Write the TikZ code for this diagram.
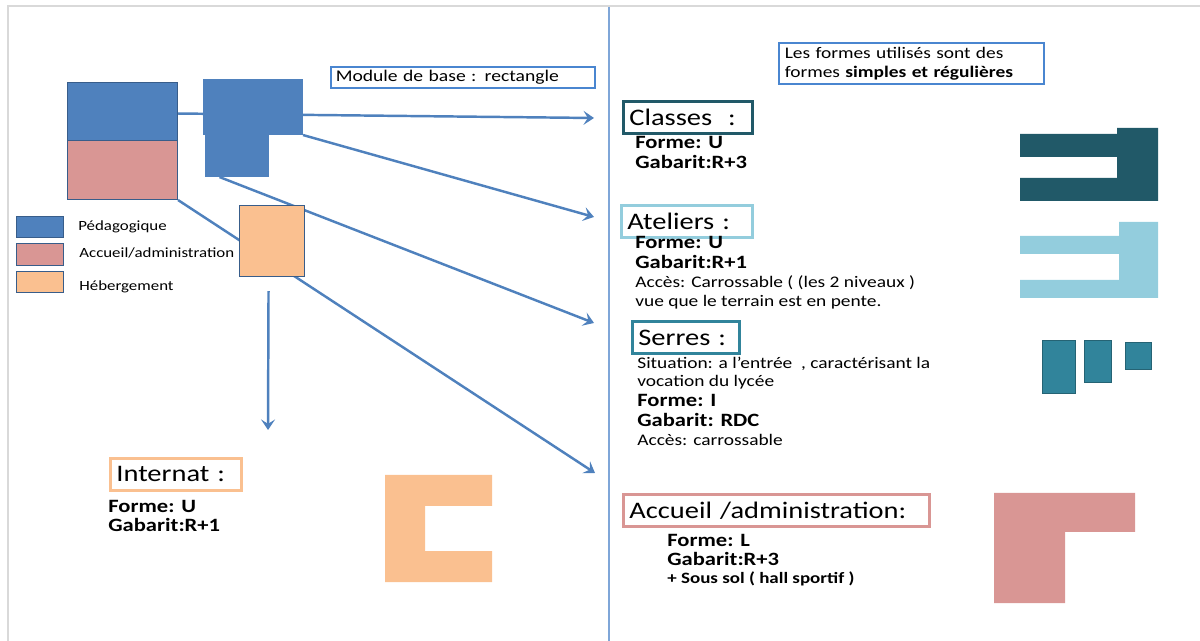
\documentclass[tikz,border=0pt]{standalone}
\usepackage{fontspec}
\setmainfont[FakeStretch=1.2]{Carlito}
\usetikzlibrary{positioning,calc,arrows.meta,backgrounds}

\definecolor{pedableu}{HTML}{4F81BD}
\definecolor{contour}{HTML}{385D8A}
\definecolor{accrose}{HTML}{D99694}
\definecolor{hebeorange}{HTML}{FAC090}
\definecolor{classteal}{HTML}{215968}
\definecolor{atelbleu}{HTML}{93CDDD}
\definecolor{serrteal}{HTML}{31849B}
\definecolor{cadregris}{HTML}{D9D9D9}
\definecolor{separbleu}{HTML}{7FA6D8}
\definecolor{boitebleu}{HTML}{4A86D0}

\tikzset{
  fleche/.style={draw=pedableu, line width=1.4pt, -{Stealth[length=6pt,width=8pt,inset=2.5pt]}},
  bloc/.style={draw=contour, line width=0.6pt, inner sep=0pt, anchor=north west},
  titre/.style={draw, line width=1.6pt, anchor=north west, inner xsep=0.12cm, inner ysep=0pt,
    minimum height=0.64cm, align=left, font=\fontsize{13.5}{15}\selectfont},
  gras/.style={anchor=base west, inner sep=0pt, font=\fontsize{10.7}{12}\selectfont\bfseries},
  texte/.style={anchor=base west, inner sep=0pt, font=\fontsize{9.2}{11}\selectfont},
  legende/.style={anchor=base west, inner sep=0pt, font=\fontsize{8}{10}\selectfont}
}

\begin{document}
\begin{tikzpicture}[x=0.02cm, y=-0.02cm]
  \useasboundingbox (0,0) rectangle (1200,641);
  % cadre et separation
  \draw[cadregris, line width=1.2pt] (8,641) -- (8,6) -- (1200,6);
  \draw[separbleu, line width=1.1pt] (609,7) -- (609,641);

  % module de base
  \node (peda) [bloc, fill=pedableu, minimum width=2.2cm, minimum height=1.16cm] at (67,82) {};
  \node (admin) [bloc, fill=accrose, minimum width=2.2cm, minimum height=1.18cm] at (67,140) {};
  \node (ltop) [bloc, draw=none, fill=pedableu, minimum width=2cm, minimum height=1.12cm] at (202,78) {};
  \node (lbot) [bloc, draw=none, fill=pedableu, minimum width=1.28cm, minimum height=0.84cm] at (204,134) {};
  \node (heberg) [bloc, fill=hebeorange, minimum width=1.3cm, minimum height=1.42cm] at (239,205) {};

  % legende
  \node (legPeda) [bloc, fill=pedableu, minimum width=0.94cm, minimum height=0.42cm] at (16,216) {};
  \node (legAdmin) [bloc, fill=accrose, minimum width=0.94cm, minimum height=0.44cm] at (16,243) {};
  \node (legHeberg) [bloc, fill=hebeorange, minimum width=0.94cm, minimum height=0.42cm] at (16,271) {};
  \node (txtPeda) [legende] at (78,231) {Pédagogique};
  \node (txtAdmin) [legende] at (79,258) {Accueil/administration};
  \node (txtHeberg) [legende] at (79,291) {Hébergement};

  \node (module) [draw=boitebleu, line width=0.9pt, anchor=north west, inner xsep=0.1cm, inner ysep=0pt,
    minimum height=0.42cm, text width=5.08cm, align=left, font=\fontsize{9.3}{11}\selectfont]
    at (330,66) {Module de base : rectangle};
  \node (formes) [draw=boitebleu, line width=0.9pt, anchor=north west, inner xsep=0.12cm, inner ysep=0pt,
    minimum height=0.82cm, text width=5.06cm, align=left, font=\fontsize{9.2}{10.8}\selectfont]
    at (778,42) {Les formes utilisés sont des\\formes \textbf{simples et régulières}};

  % fleches
  \coordinate (versClasses) at (594,118);
  \coordinate (versAteliers) at (594,217);
  \coordinate (versSerres) at (594,323);
  \coordinate (versAccueil) at (595,473);
  \coordinate (versInternat) at (268,430);
  \begin{scope}[on background layer]
    \draw[fleche] ([yshift=-0.04cm]peda.east) -- (versClasses);
    \draw[fleche] (ltop.south east) -- (versAteliers);
    \draw[fleche] ([xshift=-0.34cm]lbot.south) -- (versSerres);
    \draw[fleche] (admin.south east) -- (versAccueil);
  \end{scope}
  \draw[fleche] ([xshift=-0.07cm,yshift=-0.28cm]heberg.south) -- (versInternat);

  % classes
  \node (classes) [titre, draw=classteal, text width=2.34cm] at (622,100) {Classes\ \ :};
  \node (clsForme) [gras] at (635,149) {Forme: U};
  \node (clsGab) [gras] at (635,169) {Gabarit:R+3};
  \fill[classteal] (1020,134) -- (1117,134) -- (1117,128) -- (1158,128) -- (1158,201) -- (1020,201)
    -- (1020,178) -- (1117,178) -- (1117,157) -- (1020,157) -- cycle;

  % ateliers
  \node (ateliers) [titre, draw=atelbleu, text width=2.38cm] at (620,204) {Ateliers :};
  \node (atlForme) [gras] at (635,249) {Forme: U};
  \node (atlGab) [gras] at (635,269) {Gabarit:R+1};
  \node (atlAcces) [texte] at (635,288) {Accès: Carrossable ( (les 2 niveaux )};
  \node (atlPente) [texte] at (635,307) {vue que le terrain est en pente.};
  \fill[atelbleu] (1020,236) -- (1119,236) -- (1119,222) -- (1158,222) -- (1158,298) -- (1020,298)
    -- (1020,280) -- (1119,280) -- (1119,254) -- (1020,254) -- cycle;

  % serres
  \node (serres) [titre, draw=serrteal, text width=1.9cm] at (631,320) {Serres :};
  \node (srSituation) [texte] at (637,369) {Situation: a l’entrée\ \ , caractérisant la};
  \node (srVocation) [texte] at (637,387) {vocation du lycée};
  \node (srForme) [gras] at (637,407) {Forme: I};
  \node (srGab) [gras] at (637,427) {Gabarit: RDC};
  \node (srAcces) [texte] at (637,446) {Accès: carrossable};
  \filldraw[fill=serrteal, draw=serrteal!75!black, line width=0.5pt] (1042,340) rectangle (1075,393);
  \filldraw[fill=serrteal, draw=serrteal!75!black, line width=0.5pt] (1084,340) rectangle (1111,382);
  \filldraw[fill=serrteal, draw=serrteal!75!black, line width=0.5pt] (1125,342) rectangle (1151,369);

  % accueil
  \node (accueil) [titre, draw=accrose, text width=5.88cm] at (622,493) {Accueil /administration:};
  \node (accForme) [gras] at (667,546) {Forme: L};
  \node (accGab) [gras] at (667,565) {Gabarit:R+3};
  \node (accSousSol) [gras, font=\fontsize{9}{11}\selectfont\bfseries] at (667,583) {+ Sous sol ( hall sportif )};
  \fill[accrose] (994,493) -- (1135,493) -- (1135,532) -- (1065,532) -- (1065,603) -- (994,603) -- cycle;

  % internat
  \node (internat) [titre, draw=hebeorange, text width=2.38cm] at (109,457) {Internat :};
  \node (intForme) [gras] at (108,513) {Forme: U};
  \node (intGab) [gras] at (108,532) {Gabarit:R+1};
  \fill[hebeorange] (385,475) -- (492,475) -- (492,506) -- (425,506) -- (425,551) -- (492,551)
    -- (492,582) -- (385,582) -- cycle;
\end{tikzpicture}
\end{document}
